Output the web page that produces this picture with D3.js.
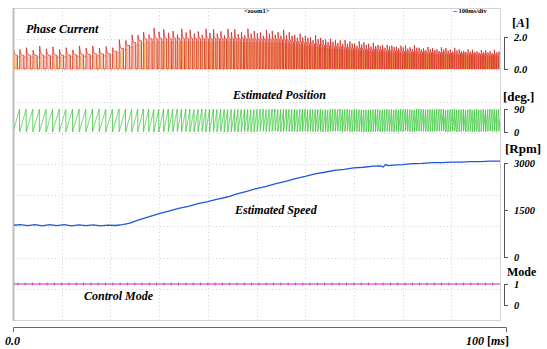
<!DOCTYPE html>
<html>
<head>
<meta charset="utf-8">
<script src="https://cdn.jsdelivr.net/npm/d3@7"></script>
<style>
  html, body { margin: 0; padding: 0; background: #fff; }
  svg { display: block; }
</style>
</head>
<body>
<svg id="chart" width="547" height="349"></svg>
<script>
// Estimated speed [rpm], time in ms
const speedTimeMs = [0, 1.5, 3, 4.5, 6, 7.5, 9, 10.5, 12, 13.5, 15, 16.5, 18, 19.5, 21, 22.5,
  24, 26, 28, 30, 32, 34, 36, 38, 40, 42, 44, 46, 48, 50, 52, 54, 56, 58, 60, 62, 64, 66, 68,
  70, 72, 74, 75.5, 76, 76.5, 77, 78, 80, 82, 84, 86, 88, 90, 92, 94, 96, 98, 100];
const speedRpm = [1010, 1035, 1000, 1030, 995, 1035, 1000, 1030, 995, 1025, 1000, 1025, 995, 1020, 1005, 1035,
  1080, 1195, 1285, 1385, 1465, 1550, 1615, 1700, 1765, 1850, 1915, 2015, 2095, 2185, 2255, 2345, 2415, 2505,
  2575, 2655, 2705, 2765, 2795, 2845, 2865, 2900, 2905, 2870, 2950, 2915, 2935, 2950, 2980, 2985, 3010, 3010,
  3030, 3030, 3045, 3045, 3060, 3060];

// Phase current envelope: peak of each pulse and the level it settles to [A]
const currentTimeMs = [0, 10, 20, 22, 24, 26, 28, 35, 45, 55, 60, 65, 70, 75, 80, 85, 90, 95, 100];
const currentPeakA = [1.4, 1.4, 1.5, 1.8, 2.1, 2.4, 2.55, 2.5, 2.5, 2.45, 2.2, 1.95, 1.75, 1.6, 1.5, 1.4, 1.3, 1.2, 1.15];
const currentBaseA = [0.85, 0.85, 0.95, 1.2, 1.5, 1.75, 1.9, 1.9, 1.9, 1.85, 1.65, 1.45, 1.3, 1.2, 1.1, 1.05, 1.0, 0.95, 0.9];
const pulseSpread = [1.0, 0.9, 0.96, 0.86, 1.04, 0.92];

// Electrical period at 1000 rpm [ms], from the sawtooth spacing
const periodAt1000Ms = 1.38;

// Control mode level
const modeTimeMs = [0, 100];
const modeLevel = [1, 1];

// Right-hand scales
const currentTicks = [0, 2];
const positionTicks = [0, 90];
const speedTicks = [0, 1500, 3000];
const modeTicks = [0, 1];

const FONT = '"Liberation Serif", "Times New Roman", serif';
const svg = d3.select('#chart');
const X0 = 13, X1 = 500, Y0 = 8, Y1 = 320;

const x = d3.scaleLinear([0, 100], [X0, X1]);
const yCur = d3.scaleLinear([0, 2], [69, 37]);
const yPos = d3.scaleLinear([0, 90], [132, 109]);
const ySpd = d3.scaleLinear([0, 3000], [257, 163]);
const yMode = d3.scaleLinear([0, 1], [305, 284]);

const speedAt = d3.scaleLinear(speedTimeMs, speedRpm);
const peakAt = d3.scaleLinear(currentTimeMs, currentPeakA);
const baseAt = d3.scaleLinear(currentTimeMs, currentBaseA);

// Panel and grid
svg.append('rect')
  .attr('x', X0 + 0.5).attr('y', Y0 + 0.5)
  .attr('width', X1 - X0).attr('height', Y1 - Y0)
  .attr('fill', '#fff').attr('stroke', '#d4d4d4');
svg.append('line')
  .attr('x1', X0 + 0.5).attr('x2', X0 + 0.5).attr('y1', Y0).attr('y2', Y1 + 1)
  .attr('stroke', '#bdbdbd').attr('stroke-width', 2);

const grid = svg.append('g')
  .attr('stroke', '#c8c8c8').attr('stroke-width', 0.8).attr('stroke-dasharray', '1,2.5');
grid.selectAll('line.v')
  .data(d3.range(10, 100, 10))
  .join('line')
  .attr('class', 'v')
  .attr('x1', d => Math.round(x(d)) + 0.5).attr('x2', d => Math.round(x(d)) + 0.5)
  .attr('y1', Y0).attr('y2', Y1);
grid.selectAll('line.h')
  .data(d3.range(1, 10))
  .join('line')
  .attr('class', 'h')
  .attr('x1', X0).attr('x2', X1)
  .attr('y1', d => Math.round(Y0 + d * (Y1 - Y0) / 10) + 0.5)
  .attr('y2', d => Math.round(Y0 + d * (Y1 - Y0) / 10) + 0.5);

// Sample the traces: electrical angle is the running integral of the speed
const dt = 0.02;
const samples = [];
let phase = 0;
for (let t = 0; t <= 100 + 1e-9; t += dt) {
  samples.push({ t, phase });
  phase += speedAt(t) / 1000 / periodAt1000Ms * dt;
}

function redCurrent(s) {
  const k = Math.floor(s.phase);
  const p = s.phase - k;
  const spread = pulseSpread[k % pulseSpread.length];
  const peak = peakAt(s.t) * spread;
  const base = baseAt(s.t) * (0.94 + 0.06 * spread);
  if (p < 0.04) return peak * p / 0.04;
  if (p < 0.66) return base + (peak - base) * Math.exp(-(p - 0.04) / 0.12);
  if (p < 0.69) return base * (0.69 - p) / 0.03;
  return 0;
}

function orangeCurrent(s) {
  const ph = s.phase + 0.4;
  const k = Math.floor(ph);
  const p = ph - k;
  const level = baseAt(s.t) * 0.88;
  if (p < 0.03) return level * p / 0.03;
  if (p < 0.6) return level;
  if (p < 0.63) return level * (0.63 - p) / 0.03;
  return 0;
}

svg.append('defs').append('clipPath').attr('id', 'plot')
  .append('rect').attr('x', X0 + 1).attr('y', Y0).attr('width', X1 - X0 - 1).attr('height', Y1 - Y0);

const traces = svg.append('g').attr('clip-path', 'url(#plot)').attr('fill', 'none');

// light body of the current pulses
traces.append('path')
  .datum(samples)
  .attr('fill', '#eca29c').attr('fill-opacity', 0.55).attr('stroke', 'none')
  .attr('d', d3.area().x(d => x(d.t)).y0(yCur(0)).y1(d => yCur(redCurrent(d))));

traces.append('path')
  .datum(samples)
  .attr('stroke', '#f2a04a').attr('stroke-width', 0.9)
  .attr('d', d3.line().x(d => x(d.t)).y(d => yCur(orangeCurrent(d))));

traces.append('path')
  .datum(samples)
  .attr('stroke', '#d8261c').attr('stroke-width', 0.8)
  .attr('d', d3.line().x(d => x(d.t)).y(d => yCur(redCurrent(d))));

traces.append('path')
  .datum(samples)
  .attr('stroke', '#33c733').attr('stroke-width', 0.8)
  .attr('d', d3.line().x(d => x(d.t)).y(d => yPos(90 * (d.phase - Math.floor(d.phase)))));

traces.append('path')
  .datum(speedTimeMs.map((t, i) => [t, speedRpm[i]]))
  .attr('stroke', '#1d58dc').attr('stroke-width', 1.3)
  .attr('d', d3.line().x(d => x(d[0])).y(d => ySpd(d[1])));

traces.append('path')
  .datum(modeTimeMs.map((t, i) => [t, modeLevel[i]]))
  .attr('stroke', '#d025cc').attr('stroke-width', 1.2)
  .attr('d', d3.line().x(d => x(d[0])).y(d => yMode(d[1])));

traces.append('g')
  .attr('stroke', '#d025cc').attr('stroke-width', 0.8)
  .selectAll('line')
  .data(d3.range(1, 99, 1.5))
  .join('line')
  .attr('x1', d => x(d)).attr('x2', d => x(d))
  .attr('y1', yMode(1) - 1.5).attr('y2', yMode(1) + 1.5);

// Right-hand brackets
function bracket(scale, ticks, fmt) {
  const g = svg.append('g')
    .attr('transform', 'translate(504,0)')
    .call(d3.axisRight(scale).tickValues(ticks).tickFormat(fmt).tickSize(4).tickSizeOuter(4).tickPadding(6));
  g.attr('font-family', FONT);
  g.select('.domain').attr('stroke', '#555');
  g.selectAll('.tick line').attr('stroke', '#555');
  g.selectAll('text')
    .attr('font-family', FONT)
    .attr('font-size', 10.5).attr('font-weight', 'bold').attr('font-style', 'italic')
    .attr('fill', '#000');
}
bracket(yCur, currentTicks, d3.format('.1f'));
bracket(yPos, positionTicks, d3.format('d'));
bracket(ySpd, speedTicks, d3.format('d'));
bracket(yMode, modeTicks, d3.format('d'));

// Bottom time axis
const xAxis = svg.append('g')
  .attr('transform', 'translate(0,327)')
  .call(d3.axisBottom(d3.scaleLinear([0, 100], [X0, 506])).tickValues([]).tickSizeOuter(5));
xAxis.select('.domain').attr('stroke', '#666');

const label = (tx, ty, size, style) => svg.append('text')
  .attr('x', tx).attr('y', ty)
  .attr('font-family', FONT)
  .attr('font-size', size).attr('font-weight', 'bold')
  .attr('font-style', style || 'normal').attr('fill', '#000');

label(5, 345, 12, 'italic').text('0.0');
const endLabel = label(466, 345, 12, 'italic');
endLabel.append('tspan').text('100 ');
endLabel.append('tspan').attr('font-style', 'normal').text('[');
endLabel.append('tspan').text('ms');
endLabel.append('tspan').attr('font-style', 'normal').text(']');

// Units
const unitA = label(512, 27, 13, 'normal');
unitA.append('tspan').text('[');
unitA.append('tspan').attr('font-style', 'italic').text('A');
unitA.append('tspan').text(']');
label(503, 101, 13).text('[deg.]');
label(505, 153, 13).text('[Rpm]');
label(507, 276, 12).text('Mode');

// Channel names
label(26, 33, 12, 'italic').text('Phase Current');
label(233, 99, 12, 'italic').text('Estimated Position');
label(235, 214, 12, 'italic').text('Estimated Speed');
label(84, 300, 12, 'italic').text('Control Mode');

// Scope header
label(244, 13, 6.5).text('<zoom1>');
label(452, 13, 6.5).text('\u21d4100ms/div');
</script>
</body>
</html>
